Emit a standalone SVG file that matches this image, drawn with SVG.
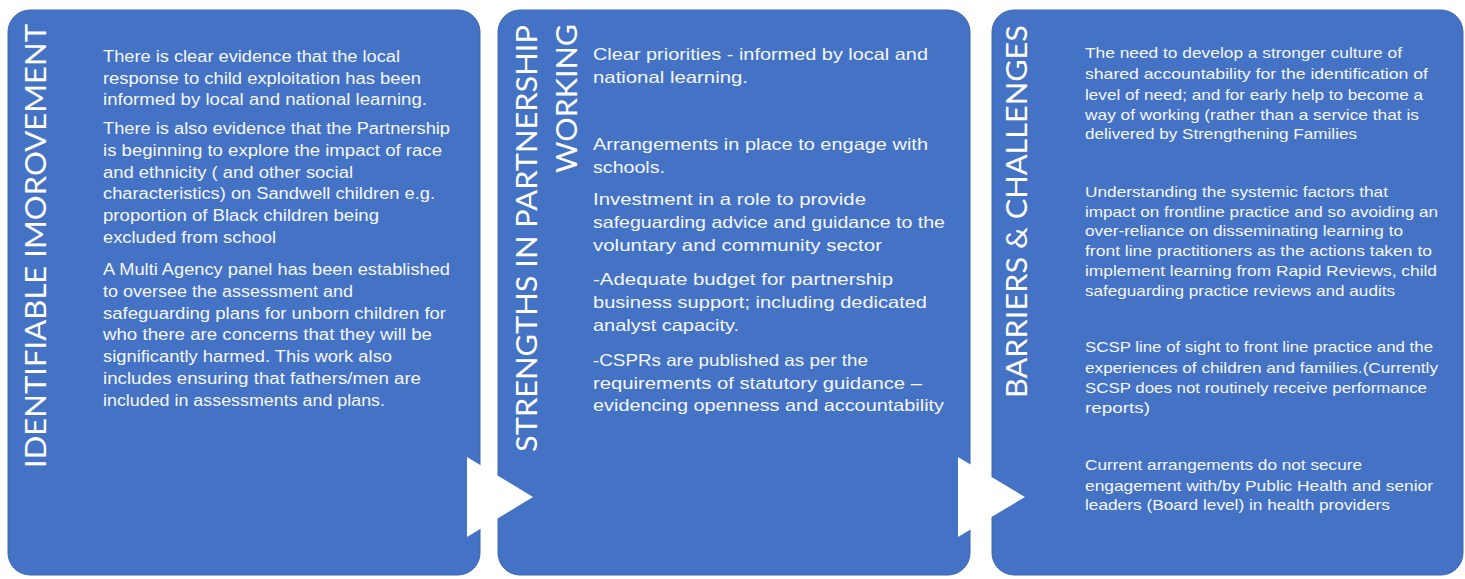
<svg xmlns="http://www.w3.org/2000/svg" width="1465" height="579" viewBox="0 0 1465 579">
  <style>
    .box { fill: #4472c4; stroke: #3d66b2; stroke-width: 1; }
    .chevron { fill: #ffffff; }
    .title { fill: #ffffff; font-family: "Lato", "Liberation Sans", sans-serif; font-weight: 400; font-size: 29px; }
    .body { fill: #f5f7fc; font-family: "Liberation Sans", Arial, sans-serif; }
    .b1 { font-size: 16px; }
    .b2 { font-size: 16.5px; }
    .b3 { font-size: 14.5px; }
  </style>
  <rect width="1465" height="579" fill="#ffffff"/>

  <!-- Panel 1 -->
  <g id="node-identifiable-improvement">
    <rect class="box" x="8" y="10" width="472" height="565" rx="22" ry="22"/>
    <text class="title" transform="translate(46,468) rotate(-90)" textLength="444" lengthAdjust="spacingAndGlyphs">IDENTIFIABLE IMOROVEMENT</text>
    <g class="body b1">
      <text x="103" y="62" textLength="297" lengthAdjust="spacingAndGlyphs">There is clear evidence that the local</text>
      <text x="103" y="83.5" textLength="318" lengthAdjust="spacingAndGlyphs">response to child exploitation has been</text>
      <text x="103" y="105" textLength="324" lengthAdjust="spacingAndGlyphs">informed by local and national learning.</text>
      <text x="103" y="134" textLength="347" lengthAdjust="spacingAndGlyphs">There is also evidence that the Partnership</text>
      <text x="103" y="156" textLength="339" lengthAdjust="spacingAndGlyphs">is beginning to explore the impact of race</text>
      <text x="103" y="177.5" textLength="250" lengthAdjust="spacingAndGlyphs">and ethnicity ( and other social</text>
      <text x="103" y="199" textLength="332" lengthAdjust="spacingAndGlyphs">characteristics) on Sandwell children e.g.</text>
      <text x="103" y="221" textLength="276" lengthAdjust="spacingAndGlyphs">proportion of Black children being</text>
      <text x="103" y="242.5" textLength="173" lengthAdjust="spacingAndGlyphs">excluded from school</text>
      <text x="103" y="275" textLength="347" lengthAdjust="spacingAndGlyphs">A Multi Agency panel has been established</text>
      <text x="103" y="297" textLength="250" lengthAdjust="spacingAndGlyphs">to oversee the assessment and</text>
      <text x="103" y="318.5" textLength="343" lengthAdjust="spacingAndGlyphs">safeguarding plans for unborn children for</text>
      <text x="103" y="340" textLength="329" lengthAdjust="spacingAndGlyphs">who there are concerns that they will be</text>
      <text x="103" y="362" textLength="289" lengthAdjust="spacingAndGlyphs">significantly harmed. This work also</text>
      <text x="103" y="384" textLength="318" lengthAdjust="spacingAndGlyphs">includes ensuring that fathers/men are</text>
      <text x="103" y="405.5" textLength="282" lengthAdjust="spacingAndGlyphs">included in assessments and plans.</text>
    </g>
  </g>

  <!-- Panel 2 -->
  <g id="node-strengths">
    <rect class="box" x="498" y="10" width="472" height="565" rx="22" ry="22"/>
    <text class="title" transform="translate(537,452) rotate(-90)" textLength="427" lengthAdjust="spacingAndGlyphs">STRENGTHS IN PARTNERSHIP</text>
    <text class="title" transform="translate(577,173) rotate(-90)" textLength="149" lengthAdjust="spacingAndGlyphs">WORKING</text>
    <g class="body b2">
      <text x="593" y="60" textLength="335" lengthAdjust="spacingAndGlyphs">Clear priorities - informed by local and</text>
      <text x="593" y="83" textLength="155" lengthAdjust="spacingAndGlyphs">national learning.</text>
      <text x="593" y="150" textLength="335" lengthAdjust="spacingAndGlyphs">Arrangements in place to engage with</text>
      <text x="593" y="173" textLength="72" lengthAdjust="spacingAndGlyphs">schools.</text>
      <text x="593" y="205" textLength="273" lengthAdjust="spacingAndGlyphs">Investment in a role to provide</text>
      <text x="593" y="228" textLength="352" lengthAdjust="spacingAndGlyphs">safeguarding advice and guidance to the</text>
      <text x="593" y="251" textLength="289" lengthAdjust="spacingAndGlyphs">voluntary and community sector</text>
      <text x="593" y="285" textLength="300" lengthAdjust="spacingAndGlyphs">-Adequate budget for partnership</text>
      <text x="593" y="307.5" textLength="334" lengthAdjust="spacingAndGlyphs">business support; including dedicated</text>
      <text x="593" y="330.5" textLength="146" lengthAdjust="spacingAndGlyphs">analyst capacity.</text>
      <text x="593" y="366" textLength="275" lengthAdjust="spacingAndGlyphs">-CSPRs are published as per the</text>
      <text x="593" y="388.5" textLength="329" lengthAdjust="spacingAndGlyphs">requirements of statutory guidance –</text>
      <text x="593" y="411" textLength="351" lengthAdjust="spacingAndGlyphs">evidencing openness and accountability</text>
    </g>
  </g>

  <!-- Panel 3 -->
  <g id="node-barriers">
    <rect class="box" x="992" y="10" width="471" height="565" rx="22" ry="22"/>
    <text class="title" transform="translate(1027,398) rotate(-90)" textLength="373" lengthAdjust="spacingAndGlyphs">BARRIERS &amp; CHALLENGES</text>
    <g class="body b3">
      <text x="1085" y="58" textLength="317" lengthAdjust="spacingAndGlyphs">The need to develop a stronger culture of</text>
      <text x="1085" y="79" textLength="343" lengthAdjust="spacingAndGlyphs">shared accountability for the identification of</text>
      <text x="1085" y="99.5" textLength="338" lengthAdjust="spacingAndGlyphs">level of need; and for early help to become a</text>
      <text x="1085" y="119.5" textLength="334" lengthAdjust="spacingAndGlyphs">way of working (rather than a service that is</text>
      <text x="1085" y="139" textLength="272" lengthAdjust="spacingAndGlyphs">delivered by Strengthening Families</text>
      <text x="1085" y="197" textLength="303" lengthAdjust="spacingAndGlyphs">Understanding the systemic factors that</text>
      <text x="1085" y="216.5" textLength="353" lengthAdjust="spacingAndGlyphs">impact on frontline practice and so avoiding an</text>
      <text x="1085" y="236" textLength="318" lengthAdjust="spacingAndGlyphs">over-reliance on disseminating learning to</text>
      <text x="1085" y="256" textLength="347" lengthAdjust="spacingAndGlyphs">front line practitioners as the actions taken to</text>
      <text x="1085" y="276" textLength="352" lengthAdjust="spacingAndGlyphs">implement learning from Rapid Reviews, child</text>
      <text x="1085" y="296" textLength="310" lengthAdjust="spacingAndGlyphs">safeguarding practice reviews and audits</text>
      <text x="1085" y="352" textLength="348" lengthAdjust="spacingAndGlyphs">SCSP line of sight to front line practice and the</text>
      <text x="1085" y="373" textLength="353" lengthAdjust="spacingAndGlyphs">experiences of children and families.(Currently</text>
      <text x="1085" y="393" textLength="342" lengthAdjust="spacingAndGlyphs">SCSP does not routinely receive performance</text>
      <text x="1085" y="413" textLength="65" lengthAdjust="spacingAndGlyphs">reports)</text>
      <text x="1085" y="470" textLength="277" lengthAdjust="spacingAndGlyphs">Current arrangements do not secure</text>
      <text x="1085" y="491" textLength="348" lengthAdjust="spacingAndGlyphs">engagement with/by Public Health and senior</text>
      <text x="1085" y="510" textLength="305" lengthAdjust="spacingAndGlyphs">leaders (Board level) in health providers</text>
    </g>
  </g>

  <!-- Chevrons linking the panels -->
  <g id="connectors">
    <polygon class="chevron" points="467,457 533,497 467,537"/>
    <polygon class="chevron" points="958,457 1025,497 958,537"/>
  </g>
</svg>
